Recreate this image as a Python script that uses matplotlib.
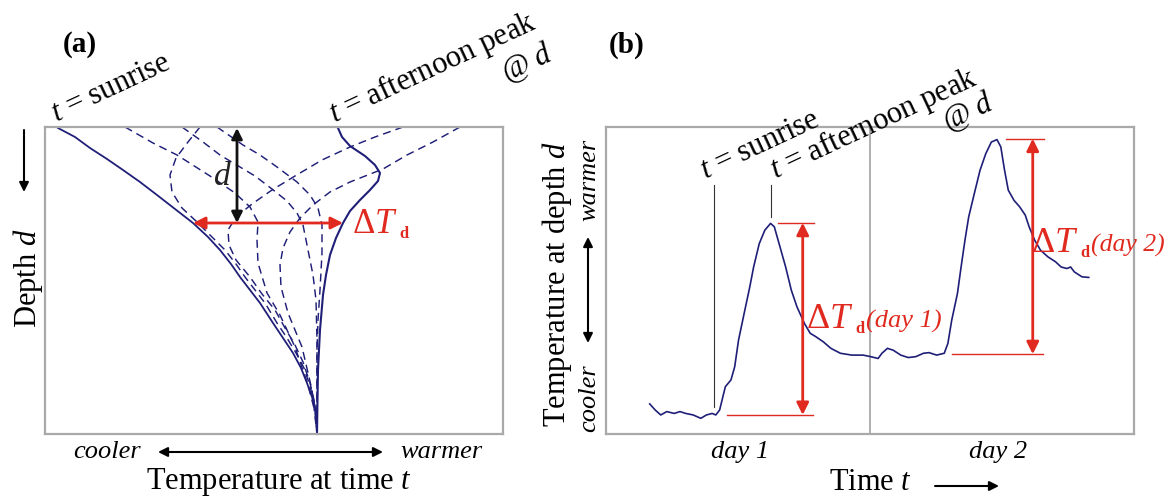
import numpy as np
import matplotlib
matplotlib.use('Agg')
import matplotlib.pyplot as plt
from matplotlib.patches import FancyArrowPatch

plt.rcParams['font.family'] = ['Liberation Serif', 'DejaVu Serif']
plt.rcParams['mathtext.fontset'] = 'custom'
plt.rcParams['mathtext.rm'] = 'Liberation Serif'
plt.rcParams['mathtext.it'] = 'Liberation Serif:italic'
plt.rcParams['mathtext.bf'] = 'Liberation Serif:bold'

# ---------------- Panel (a): temperature profiles (arbitrary units) ----------------
sunrise_T = [13, 30, 45, 62, 78, 95, 112, 130, 148, 163, 175, 186, 195, 205, 215, 228, 238, 248, 256, 262, 267, 270, 271.5, 272]
sunrise_D = [1, 10, 21, 32, 43, 55, 68, 82, 96, 110, 123, 137, 150, 163, 176, 196, 211, 226, 241, 256, 270, 280, 293, 307]

peak_T = [293, 297, 305, 320, 330, 335, 333, 325, 315, 305, 298, 291, 285, 281, 278, 275, 273, 272.5, 272]
peak_D = [1, 10, 19, 29, 38, 46, 54, 63, 73, 84, 96, 111, 128, 148, 168, 203, 243, 273, 307]

mid1_T = [155, 143, 131, 125, 127, 137, 152, 165, 180, 191, 200, 210, 220, 232, 242, 251, 259, 264, 268, 271, 272]
mid1_D = [0, 15, 31, 48, 65, 81, 95, 108, 123, 137, 150, 163, 176, 196, 211, 226, 241, 256, 270, 285, 307]

mid2_T = [80, 108, 132, 165, 190, 205, 213, 212, 213, 222, 235, 250, 263, 270, 272]
mid2_D = [0, 16, 28, 49, 66, 80, 95, 113, 136, 166, 188, 220, 258, 285, 307]

mid3_T = [137, 158, 175, 195, 210, 227, 242, 252, 258, 263, 268, 271, 272, 272]
mid3_D = [0, 15, 28, 40, 49, 62, 74, 86, 98, 123, 148, 173, 213, 307]

mid4_T = [172, 198, 215, 232, 252, 265, 273, 277, 277, 275, 273, 272, 272]
mid4_D = [0, 18, 28, 40, 55, 68, 81, 98, 126, 163, 193, 223, 307]

mid5_T = [358, 330, 305, 277, 250, 227, 207, 191, 183, 184, 191, 205, 217, 230, 240, 250, 258, 265, 269, 271, 272]
mid5_D = [0, 10, 20, 33, 49, 63, 77, 90, 103, 118, 133, 150, 167, 183, 201, 218, 235, 256, 273, 288, 307]

mid6_T = [415, 388, 362, 338, 305, 285, 268, 255, 245, 238, 235, 236, 243, 257, 267, 272]
mid6_D = [0, 15, 28, 42, 55, 65, 78, 91, 105, 121, 138, 160, 186, 220, 263, 307]

depth_d = 96          # depth d marked in panel (a)

# ---------------- Panel (b): temperature at depth d vs time ----------------
time_h = [4.0, 4.5, 5.0, 5.55, 6.23, 6.75, 7.27, 7.95, 8.64, 9.15, 9.67, 10.0, 10.35, 10.87,
          11.38, 11.72, 12.07, 12.58, 13.09, 13.44, 13.95, 14.46, 14.98, 15.32, 15.84, 16.35,
          16.86, 17.38, 18.06, 18.58, 19.09, 19.78, 20.46, 21.32, 22.35, 23.38, 24.07, 24.75,
          25.1, 25.6, 26.12, 26.81, 27.49, 28.18, 28.87, 29.38, 30.07, 30.76, 31.09, 31.44,
          31.96, 32.29, 32.64, 32.98, 33.49, 34.01, 34.53, 35.04, 35.55, 35.9, 36.24, 36.58,
          37.1, 37.61, 38.12, 38.47, 38.98, 39.5, 40.18, 40.87, 41.38, 41.9, 42.24, 42.58,
          43.27, 43.89]
temp_d = [9.8, 7.8, 6.2, 7.3, 6.7, 7.3, 6.7, 6.2, 5.1, 6.2, 6.7, 6.2, 7.8, 15.4,
          17.6, 21.9, 30.6, 39.3, 47.9, 54.4, 62.0, 66.4, 68.6, 67.5, 60.9, 54.4,
          46.9, 41.4, 36.0, 32.8, 31.7, 30.0, 27.9, 26.3, 25.7, 25.7, 25.2, 24.6,
          26.3, 27.9, 27.3, 25.7, 24.9, 25.2, 26.3, 26.5, 25.7, 26.3, 29.5, 37.1,
          45.8, 54.4, 63.1, 70.7, 78.3, 85.9, 91.3, 95.1, 95.9, 93.5, 85.9, 79.4,
          76.1, 74.0, 71.3, 67.5, 63.1, 59.9, 57.7, 56.1, 54.4, 53.9, 54.4, 52.8,
          51.2, 51.0]
day_split = 24
t_sunrise, t_peak = 9.84, 15.05
day1_low, day1_high = 6.2, 68.8
day2_low, day2_high = 26.0, 96.2

# ---------------- styling ----------------
NAVY = '#1f1f78'
RED = '#e02a1f'
GRAY = '#a9a9a9'
W, H = 1169, 497
fig = plt.figure(figsize=(W / 100, H / 100), dpi=100)

def fx(px):
    return px / W

def fy(py):
    return 1 - py / H

def farrow(p0, p1, style='-|>', color='k', lw=1.4, ms=14):
    a = FancyArrowPatch((fx(p0[0]), fy(p0[1])), (fx(p1[0]), fy(p1[1])),
                        transform=fig.transFigure, arrowstyle=style,
                        mutation_scale=ms, color=color, lw=lw,
                        shrinkA=0, shrinkB=0)
    fig.add_artist(a)

def delta_label(x, y, big, sub_dx, extra=None, extra_dx=0, extra_size=19):
    fig.text(fx(x), fy(y), r'$\Delta T$', fontsize=big, color=RED,
             ha='left', va='baseline')
    fig.text(fx(x + sub_dx), fy(y + 5), 'd', fontsize=12, fontweight='bold',
             color=RED, ha='left', va='baseline')
    if extra:
        fig.text(fx(x + extra_dx), fy(y), extra, fontsize=extra_size,
                 style='italic', color=RED, ha='left', va='baseline')

def box(ax):
    ax.set_xticks([])
    ax.set_yticks([])
    for s in ax.spines.values():
        s.set_color(GRAY)
        s.set_linewidth(1.6)

# ---------------- Panel (a) ----------------
axA = fig.add_axes([fx(45), fy(434), fx(503) - fx(45), fy(127) - fy(434)])
axA.set_xlim(0, 458)
axA.set_ylim(307, 0)
box(axA)
dash = (0, (5.5, 3.5))
for T, D in [(mid1_T, mid1_D), (mid2_T, mid2_D), (mid3_T, mid3_D),
             (mid4_T, mid4_D), (mid5_T, mid5_D), (mid6_T, mid6_D)]:
    axA.plot(T, D, color=NAVY, lw=1.05, linestyle=dash, clip_on=False)
axA.plot(sunrise_T, sunrise_D, color=NAVY, lw=1.3, clip_on=False)
axA.plot(peak_T, peak_D, color=NAVY, lw=1.5, clip_on=False)

T_lo = np.interp(depth_d, sunrise_D, sunrise_T)
T_hi = np.interp(depth_d, peak_D, peak_T)
axA.annotate('', xy=(T_hi, depth_d), xytext=(T_lo, depth_d),
             arrowprops=dict(arrowstyle='<|-|>', color=RED, lw=2.0,
                             mutation_scale=18, shrinkA=0, shrinkB=0))
axA.annotate('', xy=(192, depth_d), xytext=(192, 1),
             arrowprops=dict(arrowstyle='<|-|>', color='#111111', lw=2.0,
                             mutation_scale=16, shrinkA=0, shrinkB=0))
axA.text(177, 50, '$d$', fontsize=24, ha='center', va='center', color='#222222')
delta_label(352, 233, 25, 47)

fig.text(fx(80), fy(45), '(a)', fontsize=21, fontweight='bold', ha='center', va='center')
fig.text(fx(56), fy(122), '$t$ = sunrise', fontsize=22, rotation=25,
         rotation_mode='anchor', ha='left', va='baseline')
fig.text(fx(334), fy(123), '$t$ = afternoon peak', fontsize=22, rotation=25,
         rotation_mode='anchor', ha='left', va='baseline')
fig.text(fx(507), fy(82), '@ $d$', fontsize=22, rotation=25,
         rotation_mode='anchor', ha='left', va='baseline')
fig.text(fx(28), fy(278), 'Depth $d$', fontsize=22, rotation=90, ha='center', va='center')
farrow((24, 130), (24, 192), ms=14, lw=1.5)
fig.text(fx(107), fy(452), 'cooler', fontsize=19, style='italic', ha='center', va='center')
fig.text(fx(441), fy(452), 'warmer', fontsize=19, style='italic', ha='center', va='center')
farrow((158, 452), (383, 452), style='<|-|>', ms=14, lw=1.5)
fig.text(fx(279), fy(482), 'Temperature at time $t$', fontsize=22, ha='center', va='center')

# ---------------- Panel (b) ----------------
axB = fig.add_axes([fx(605.7), fy(434), fx(1134) - fx(605.7), fy(127) - fy(434)])
axB.set_xlim(0, 48)
axB.set_ylim(0, 100)
box(axB)
axB.axvline(day_split, color=GRAY, lw=1.3)
axB.plot(time_h, temp_d, color=NAVY, lw=1.2)

axB.plot([t_sunrise, t_sunrise], [8.9, 81], color='#333333', lw=0.8)
axB.plot([t_peak, t_peak], [70.7, 81], color='#333333', lw=0.8)

axB.plot([11.0, 18.85], [day1_low, day1_low], color=RED, lw=1.0)
axB.plot([15.66, 18.94], [day1_high, day1_high], color=RED, lw=1.0)
axB.annotate('', xy=(17.9, day1_high), xytext=(17.9, day1_low),
             arrowprops=dict(arrowstyle='<|-|>', color=RED, lw=2.0,
                             mutation_scale=18, shrinkA=0, shrinkB=0))
axB.plot([31.5, 39.7], [day2_low, day2_low], color=RED, lw=1.0)
axB.plot([36.4, 39.8], [day2_high, day2_high], color=RED, lw=1.0)
axB.annotate('', xy=(38.8, day2_high), xytext=(38.8, day2_low),
             arrowprops=dict(arrowstyle='<|-|>', color=RED, lw=2.0,
                             mutation_scale=18, shrinkA=0, shrinkB=0))

delta_label(806, 328, 26, 49, '(day 1)', 60)
delta_label(1031, 252, 26, 49, '(day 2)', 60, extra_size=18.5)

fig.text(fx(627), fy(45), '(b)', fontsize=21, fontweight='bold', ha='center', va='center')
fig.text(fx(705), fy(179), '$t$ = sunrise', fontsize=22, rotation=25,
         rotation_mode='anchor', ha='left', va='baseline')
fig.text(fx(775), fy(179), '$t$ = afternoon peak', fontsize=22, rotation=25,
         rotation_mode='anchor', ha='left', va='baseline')
fig.text(fx(948), fy(131), '@ $d$', fontsize=22, rotation=25,
         rotation_mode='anchor', ha='left', va='baseline')

fig.text(fx(557), fy(284), 'Temperature at depth $d$', fontsize=22, rotation=90,
         ha='center', va='center')
fig.text(fx(589), fy(180), 'warmer', fontsize=19, style='italic', rotation=90,
         ha='center', va='center')
fig.text(fx(589), fy(398), 'cooler', fontsize=19, style='italic', rotation=90,
         ha='center', va='center')
farrow((588, 237), (588, 343), style='<|-|>', ms=14, lw=1.5)

fig.text(fx(740), fy(452), 'day 1', fontsize=19, style='italic', ha='center', va='center')
fig.text(fx(998), fy(452), 'day 2', fontsize=19, style='italic', ha='center', va='center')
fig.text(fx(871), fy(482), 'Time $t$', fontsize=22, ha='center', va='center')
farrow((935, 486), (999, 486), ms=14, lw=1.5)

fig.savefig('out.png', dpi=100)
